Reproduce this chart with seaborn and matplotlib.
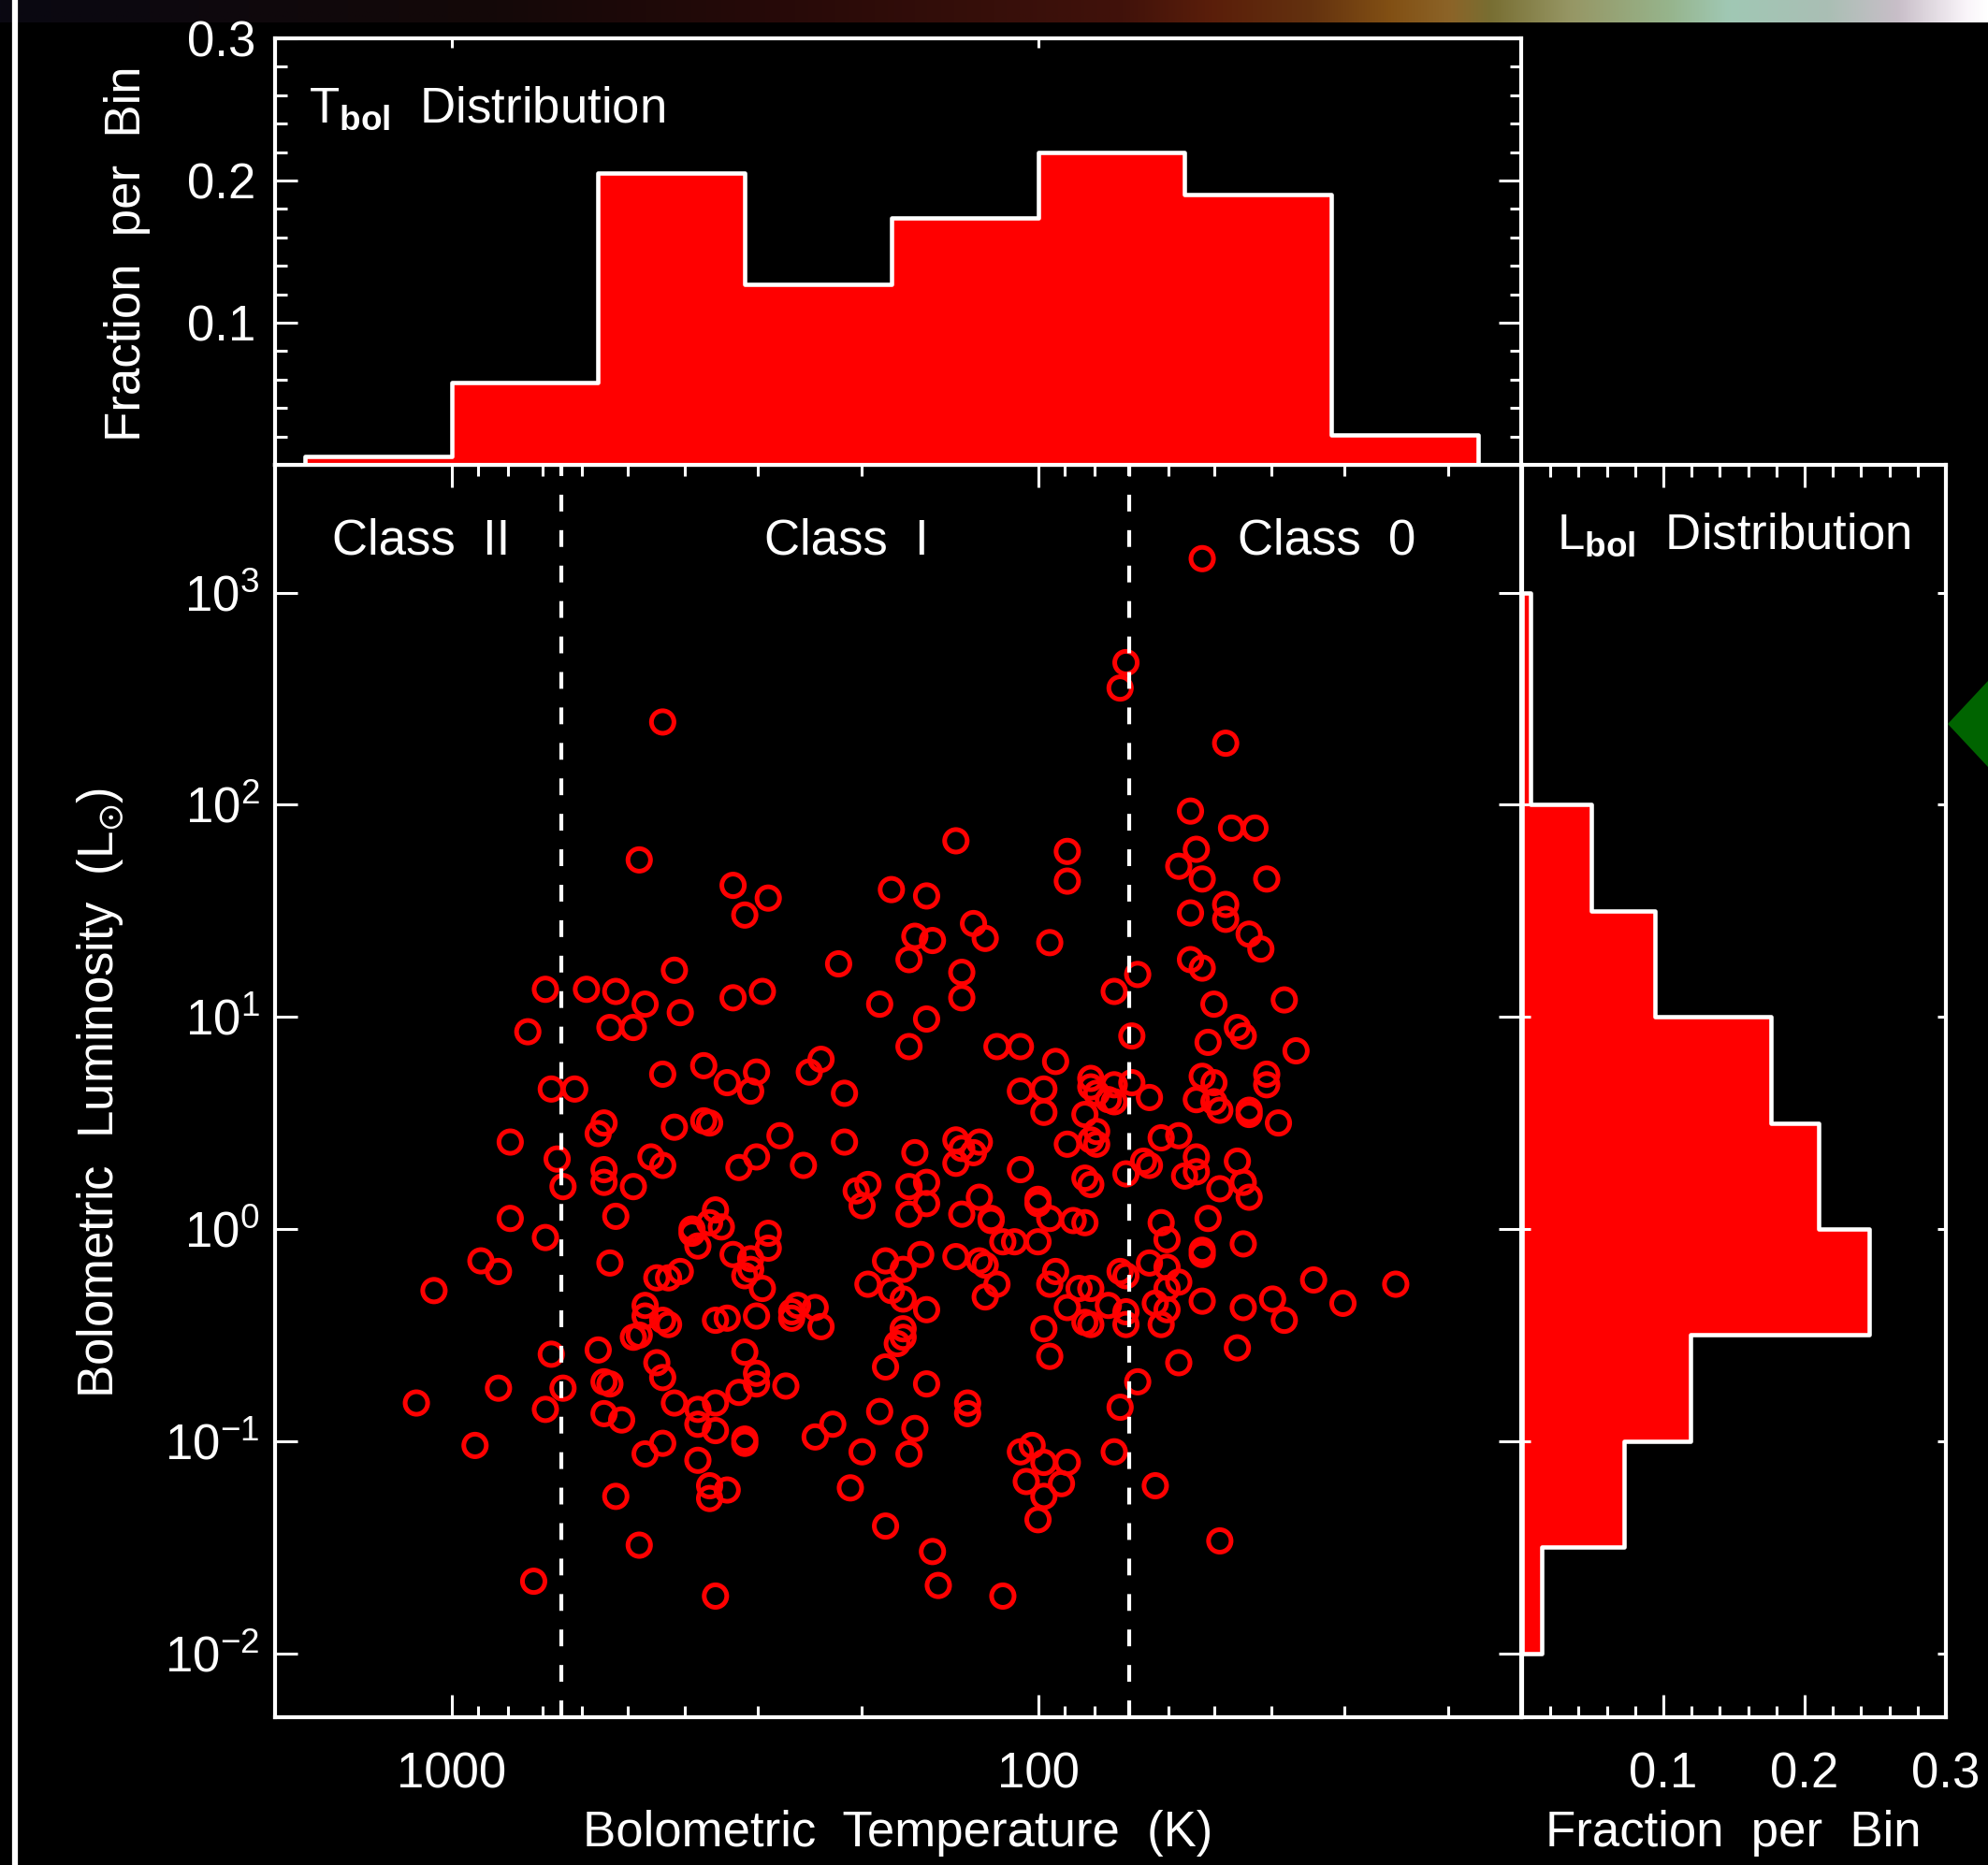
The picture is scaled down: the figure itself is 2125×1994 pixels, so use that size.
import numpy as np
import matplotlib
matplotlib.use("Agg")
import matplotlib.pyplot as plt
import seaborn as sns
from matplotlib.ticker import FixedLocator, NullLocator, NullFormatter, FuncFormatter
from matplotlib.patches import Polygon
from matplotlib.lines import Line2D

# ---------------- data ----------------
# log10 of bolometric temperature (K) and bolometric luminosity (Lsun)
log_tbol = [
    2.64, 2.68, 2.52, 2.46, 2.25, 1.72, 1.85, 1.86, 1.68, 1.74,
    1.67, 1.63, 1.73, 1.76, 1.72, 1.61, 1.68, 2.14, 1.95, 1.95,
    2.19, 2.50, 2.34, 2.62, 2.84, 2.77, 2.72, 2.47, 2.52, 2.67,
    2.27, 2.61, 2.87, 2.73, 2.69, 2.37, 2.39, 2.57, 2.64, 2.48,
    2.53, 2.49, 2.33, 2.83, 2.79, 2.74, 2.75, 2.57, 2.56, 2.62,
    2.44, 2.33, 2.90, 2.82, 2.66, 2.64, 2.48, 2.51, 2.40, 2.74,
    2.74, 2.69, 2.81, 2.29, 2.31, 2.30, 2.72, 2.90, 2.84, 2.55,
    2.56, 2.54, 2.59, 2.59, 2.58, 2.46, 2.46, 2.52, 2.49, 2.49,
    2.50, 2.47, 2.95, 2.92, 2.73, 2.61, 2.63, 2.65, 2.26, 2.29,
    2.25, 3.03, 1.74, 1.68, 2.11, 2.21, 2.18, 2.09, 1.98, 1.64,
    1.62, 1.74, 1.72, 2.22, 2.13, 1.83, 1.87, 2.13, 1.70, 1.58,
    2.19, 1.84, 1.66, 1.65, 1.71, 2.22, 2.07, 2.03, 1.97, 1.56,
    1.91, 1.91, 1.87, 1.84, 1.72, 1.70, 1.61, 1.61, 2.03, 1.99,
    1.90, 1.88, 1.87, 1.81, 1.73, 1.70, 1.69, 1.99, 1.92, 1.64,
    1.64, 1.59, 2.14, 2.10, 2.13, 2.11, 2.14, 2.21, 1.95, 1.90,
    1.91, 1.90, 1.79, 1.76, 1.73, 1.82, 1.81, 1.85, 1.75, 1.73,
    1.66, 1.65, 1.64, 1.69, 2.03, 1.92, 1.91, 2.22, 2.19, 2.19,
    2.22, 2.13, 2.10, 2.08, 2.08, 2.00, 2.00, 1.98, 1.94, 1.92,
    1.71, 1.79, 1.78, 2.06, 2.04, 2.00, 1.65, 1.72, 1.72, 2.20,
    2.14, 2.10, 2.09, 2.23, 2.07, 1.97, 1.98, 1.93, 1.91, 1.86,
    1.85, 1.81, 1.78, 1.76, 1.78, 1.53, 1.39, 2.67, 2.67, 2.64,
    2.63, 2.68, 2.69, 2.55, 2.53, 2.48, 2.42, 2.42, 2.41, 2.38,
    2.37, 2.75, 2.83, 2.92, 3.06, 2.81, 2.84, 2.74, 2.73, 2.74,
    2.71, 2.65, 2.64, 2.62, 2.50, 2.48, 2.48, 2.51, 2.43, 2.58,
    2.55, 2.58, 2.55, 2.50, 2.50, 2.96, 2.64, 2.67, 2.58, 2.26,
    2.27, 2.35, 2.38, 2.30, 2.72, 2.56, 2.56, 2.53, 2.32, 2.26,
    2.68, 2.86, 2.55, 2.23, 2.19, 2.09, 1.95, 1.88, 1.92, 1.91,
    1.85, 1.85, 1.80, 1.78, 1.79, 1.72, 1.65, 1.60, 1.58, 1.48,
    1.99, 1.98, 2.23, 2.23, 2.24, 2.19, 2.12, 2.12, 2.21, 2.22,
    1.66, 1.76, 1.83, 1.86, 1.87, 2.03, 2.01, 1.99, 1.95, 2.02,
    1.96, 1.99, 2.00, 1.80, 1.69, 2.18, 2.17, 2.06,
]
log_lbol = [
    2.39, 1.74, 1.62, 1.56, 1.60, 3.16, 2.67, 2.55, 2.29, 1.97,
    1.89, 1.89, 1.79, 1.71, 1.65, 1.65, 1.53, 1.83, 1.78, 1.64,
    1.57, 1.48, 1.25, 1.22, 1.13, 1.13, 1.12, 1.12, 1.09, 1.06,
    1.06, 1.02, 0.93, 0.95, 0.95, 0.80, 0.74, 0.77, 0.73, 0.74,
    0.69, 0.65, 0.64, 0.66, 0.66, 0.50, 0.45, 0.51, 0.50, 0.48,
    0.44, 0.41, 0.41, 0.33, 0.34, 0.30, 0.34, 0.29, 0.30, 0.28,
    0.22, 0.20, 0.20, 0.21, 0.18, 0.11, 0.06, 0.05, -0.04, 0.09,
    0.03, 0.01, 0.00, -0.02, -0.08, -0.02, -0.09, -0.12, -0.14, -0.19,
    -0.22, -0.28, -0.15, -0.20, -0.16, -0.20, -0.23, -0.23, -0.15, -0.26,
    -0.29, -0.29, 1.49, 1.46, 1.44, 1.38, 1.36, 1.37, 1.35, 1.39,
    1.32, 1.27, 1.23, 1.27, 1.21, 1.20, 1.12, 1.09, 1.06, 1.08,
    0.99, 0.91, 0.95, 0.91, 0.88, 0.86, 0.86, 0.86, 0.79, 0.84,
    0.71, 0.67, 0.68, 0.69, 0.72, 0.69, 0.73, 0.68, 0.65, 0.66,
    0.64, 0.61, 0.60, 0.62, 0.61, 0.60, 0.56, 0.55, 0.54, 0.56,
    0.54, 0.50, 0.42, 0.41, 0.38, 0.36, 0.31, 0.36, 0.40, 0.46,
    0.42, 0.40, 0.43, 0.44, 0.34, 0.32, 0.30, 0.26, 0.25, 0.27,
    0.32, 0.22, 0.15, 0.19, 0.28, 0.24, 0.21, 0.20, 0.22, 0.12,
    0.07, 0.07, 0.15, 0.05, 0.04, 0.12, 0.14, 0.05, 0.04, 0.03,
    0.05, 0.03, -0.05, -0.06, -0.06, -0.06, -0.07, -0.12, -0.10, -0.12,
    -0.13, -0.15, -0.17, -0.19, -0.26, -0.20, -0.26, -0.28, -0.28, -0.20,
    -0.22, -0.16, -0.18, -0.25, -0.28, -0.24, -0.26, -0.36, -0.41, -0.43,
    -0.45, -0.50, -0.51, -0.43, -0.42, -0.41, -0.39, -0.42, -0.36, -0.37,
    -0.46, -0.57, -0.59, -0.75, -0.82, -0.75, -0.85, -0.72, -0.73, -0.87,
    -0.90, -0.63, -0.70, -0.82, -0.58, -0.68, -0.73, -0.77, -0.74, -0.85,
    -0.82, -0.92, -0.95, -0.99, -1.01, -1.02, -1.01, -1.06, -1.09, -0.65,
    -0.86, -0.92, -0.98, -1.05, -1.26, -1.21, -1.27, -1.23, -1.22, -1.40,
    -1.49, -1.66, -1.73, -0.33, -0.38, -0.32, -0.37, -0.36, -0.44, -0.45,
    -0.39, -0.45, -0.35, -0.38, -0.45, -0.34, -0.37, -0.33, -0.43, -0.35,
    -0.47, -0.60, -0.47, -0.51, -0.54, -0.73, -0.82, -0.87, -0.94, -1.06,
    -0.56, -0.63, -0.72, -0.84, -1.05, -1.05, -1.02, -1.10, -1.10, -1.19,
    -1.20, -1.26, -1.37, -1.21, -1.47, -1.52, -1.68, -1.73,
]

# T_bol histogram (bin edges in log10 K, fraction per bin)
tbol_edges = [1.25, 1.50, 1.75, 2.00, 2.25, 2.50, 2.75, 3.00, 3.25]
tbol_frac = [0.021, 0.190, 0.220, 0.174, 0.127, 0.205, 0.058, 0.006]

# L_bol histogram (bin edges in log10 Lsun, fraction per bin)
lbol_edges = [-2.0, -1.5, -1.0, -0.5, 0.0, 0.5, 1.0, 1.5, 2.0, 2.5, 3.0]
lbol_frac = [0.014, 0.072, 0.119, 0.246, 0.210, 0.176, 0.094, 0.049, 0.006, 0.006]

class_boundaries_K = [650, 70]
class_labels = ["Class  II", "Class  I", "Class  0"]

x_limits_K = (2000, 15)
y_limits_Lsun = (0.005, 4000)

# ---------------- style ----------------
FS = 38
plt.rcParams["font.family"] = ["Liberation Sans", "DejaVu Sans"]
plt.rcParams["mathtext.fontset"] = "custom"
plt.rcParams["mathtext.rm"] = "Liberation Sans"
plt.rcParams["mathtext.it"] = "Liberation Sans:italic"
plt.rcParams["mathtext.bf"] = "Liberation Sans:bold"
plt.rcParams["mathtext.default"] = "regular"

W, H = 2125, 1994
fig = plt.figure(figsize=(W / 100, H / 100), dpi=100, facecolor="black")


def rect(x0, y0, x1, y1):
    return [x0 / W, 1 - y1 / H, (x1 - x0) / W, (y1 - y0) / H]


# decorative slide strip at the top
ax_strip = fig.add_axes(rect(0, 0, W, 24))
stops = [0.0, 0.25, 0.40, 0.50, 0.565, 0.61, 0.66, 0.70, 0.73, 0.75, 0.79, 0.84, 0.87, 0.92, 0.955, 0.99, 1.0]
cols = [(10, 8, 18), (20, 8, 8), (40, 10, 8), (55, 15, 10), (65, 18, 10), (90, 30, 10), (100, 50, 15),
        (130, 80, 20), (140, 100, 40), (120, 110, 50), (150, 150, 100), (150, 180, 140), (160, 200, 180),
        (170, 190, 180), (200, 190, 200), (250, 245, 250), (255, 255, 255)]
xs = np.linspace(0, 1, 800)
grad = np.stack([np.interp(xs, stops, [c[i] for c in cols]) for i in range(3)], axis=-1) / 255.0
ax_strip.imshow(grad[None, :, :], aspect="auto", extent=(0, 1, 0, 1))
ax_strip.set_axis_off()

# left white line and green arrow (slide decorations)
fig.add_artist(Line2D([16 / W, 16 / W], [0, 1], transform=fig.transFigure, color="white", lw=4.5))
fig.add_artist(Polygon([(2082 / W, 1 - 774 / H), (1.0, 1 - 728 / H), (1.0, 1 - 820 / H)],
                       closed=True, transform=fig.transFigure, color="#006400", lw=0))

spine_lw = 3
tick_w = 2.2

# ---------------- main scatter ----------------
ax = fig.add_axes(rect(294, 497, 1626, 1836))
ax.set_facecolor("black")
sns.scatterplot(x=10 ** np.array(log_tbol), y=10 ** np.array(log_lbol), ax=ax, marker="o", s=300,
                facecolor="none", edgecolor="red", linewidth=3.6, zorder=3, legend=False)
ax.set_xscale("log")
ax.set_yscale("log")
ax.set_xlim(*x_limits_K)
ax.set_ylim(*y_limits_Lsun)
for b in class_boundaries_K:
    ax.axvline(b, color="white", lw=3, ls=(0, (4.3, 4.8)), zorder=4)

ax.xaxis.set_major_locator(FixedLocator([1000, 100]))
ax.xaxis.set_minor_locator(FixedLocator([m * 10 ** e for e in (1, 2) for m in range(2, 10)]))
ax.xaxis.set_major_formatter(FuncFormatter(lambda v, p: f"{v:g}"))
ax.xaxis.set_minor_formatter(NullFormatter())
ax.yaxis.set_major_locator(FixedLocator([10.0 ** k for k in range(-2, 4)]))
ax.yaxis.set_minor_locator(NullLocator())
ax.yaxis.set_major_formatter(FuncFormatter(lambda v, p: r"$10^{%d}$" % int(round(np.log10(v)))))
ax.tick_params(which="both", direction="in", top=True, right=True, colors="white",
               width=tick_w, labelsize=FS, labelcolor="white")
ax.tick_params(which="major", length=17)
ax.tick_params(which="minor", length=8.5)
ax.tick_params(axis="x", pad=26)
ax.tick_params(axis="y", pad=12)
ax.set_xlabel("")
ax.set_ylabel("")
for s in ax.spines.values():
    s.set_color("white")
    s.set_linewidth(spine_lw)

for lab, xf in zip(class_labels, [0.046, 0.393, 0.7725]):
    ax.text(xf, 0.9389, lab, transform=ax.transAxes, color="white", fontsize=FS, ha="left", va="center")

# ---------------- top histogram (T_bol) ----------------
ax_top = fig.add_axes(rect(294, 41, 1626, 497))
ax_top.set_facecolor("black")
tbol_centers = (np.array(tbol_edges[:-1]) + np.array(tbol_edges[1:])) / 2
sns.histplot(x=tbol_centers, weights=tbol_frac, bins=tbol_edges, element="step", fill=True,
             color="red", alpha=1, edgecolor="white", linewidth=3.3, ax=ax_top)
ax_top.set_xlim(np.log10(x_limits_K[0]), np.log10(x_limits_K[1]))
ax_top.set_ylim(0, 0.3)
ax_top.xaxis.set_major_locator(FixedLocator([3, 2]))
ax_top.xaxis.set_minor_locator(NullLocator())
ax_top.tick_params(axis="x", which="both", top=True, bottom=False, labelbottom=False, labeltop=False,
                   direction="in", length=7, width=tick_w, colors="white")
ax_top.yaxis.set_major_locator(FixedLocator([0.1, 0.2, 0.3]))
ax_top.yaxis.set_minor_locator(FixedLocator([0.02, 0.04, 0.06, 0.08, 0.12, 0.14, 0.16, 0.18,
                                             0.22, 0.24, 0.26, 0.28]))
ax_top.yaxis.set_major_formatter(FuncFormatter(lambda v, p: f"{v:.1f}"))
ax_top.tick_params(axis="y", which="both", left=True, right=True, direction="in", colors="white",
                   width=tick_w, labelsize=FS, labelcolor="white", pad=15)
ax_top.tick_params(axis="y", which="major", length=17)
ax_top.tick_params(axis="y", which="minor", length=9)
ax_top.set_xlabel("")
ax_top.set_ylabel("")
for s in ax_top.spines.values():
    s.set_color("white")
    s.set_linewidth(spine_lw)
ax_top.text(0.027, 0.8355, r"T$_{\mathbf{bol}}$  Distribution", transform=ax_top.transAxes,
            color="white", fontsize=FS, ha="left", va="center")

# ---------------- right histogram (L_bol) ----------------
ax_r = fig.add_axes(rect(1627, 497, 2080, 1836))
ax_r.set_facecolor("black")
lbol_centers = (np.array(lbol_edges[:-1]) + np.array(lbol_edges[1:])) / 2
sns.histplot(y=lbol_centers, weights=lbol_frac, bins=lbol_edges, element="step", fill=True,
             color="red", alpha=1, edgecolor="white", linewidth=3.3, ax=ax_r)
ax_r.set_ylim(np.log10(y_limits_Lsun[0]), np.log10(y_limits_Lsun[1]))
ax_r.set_xlim(0, 0.3)
ax_r.yaxis.set_major_locator(FixedLocator(list(range(-2, 4))))
ax_r.yaxis.set_minor_locator(NullLocator())
ax_r.tick_params(axis="y", which="both", left=True, right=True, labelleft=False, direction="in",
                 length=6.5, width=tick_w, colors="white")
ax_r.xaxis.set_major_locator(FixedLocator([0.1, 0.2, 0.3]))
ax_r.xaxis.set_minor_locator(FixedLocator([0.02, 0.04, 0.06, 0.08, 0.12, 0.14, 0.16, 0.18,
                                           0.22, 0.24, 0.26, 0.28]))
ax_r.xaxis.set_major_formatter(FuncFormatter(lambda v, p: f"{v:.1f}"))
ax_r.tick_params(axis="x", which="both", top=True, bottom=True, direction="in", colors="white",
                 width=tick_w, labelsize=FS, labelcolor="white", pad=26)
ax_r.tick_params(axis="x", which="major", length=17)
ax_r.tick_params(axis="x", which="minor", length=9)
ax_r.set_xlabel("")
ax_r.set_ylabel("")
for s in ax_r.spines.values():
    s.set_color("white")
    s.set_linewidth(spine_lw)
ax_r.text(0.0817, 0.944, r"L$_{\mathbf{bol}}$  Distribution", transform=ax_r.transAxes,
          color="white", fontsize=FS, ha="left", va="center")

# ---------------- axis titles ----------------
fig.text(960 / W, 1 - 1960 / H, "Bolometric  Temperature  (K)", color="white", fontsize=FS,
         ha="center", va="center")
fig.text(108 / W, 1 - 1168 / H, r"Bolometric  Luminosity  (L$_{\odot}$)", color="white", fontsize=FS,
         ha="center", va="center", rotation=90)
fig.text(136 / W, 1 - 271 / H, "Fraction  per  Bin", color="white", fontsize=FS,
         ha="center", va="center", rotation=90)
fig.text(1853 / W, 1 - 1960 / H, "Fraction  per  Bin", color="white", fontsize=FS,
         ha="center", va="center")

fig.savefig("out.png", dpi=100, facecolor="black")
